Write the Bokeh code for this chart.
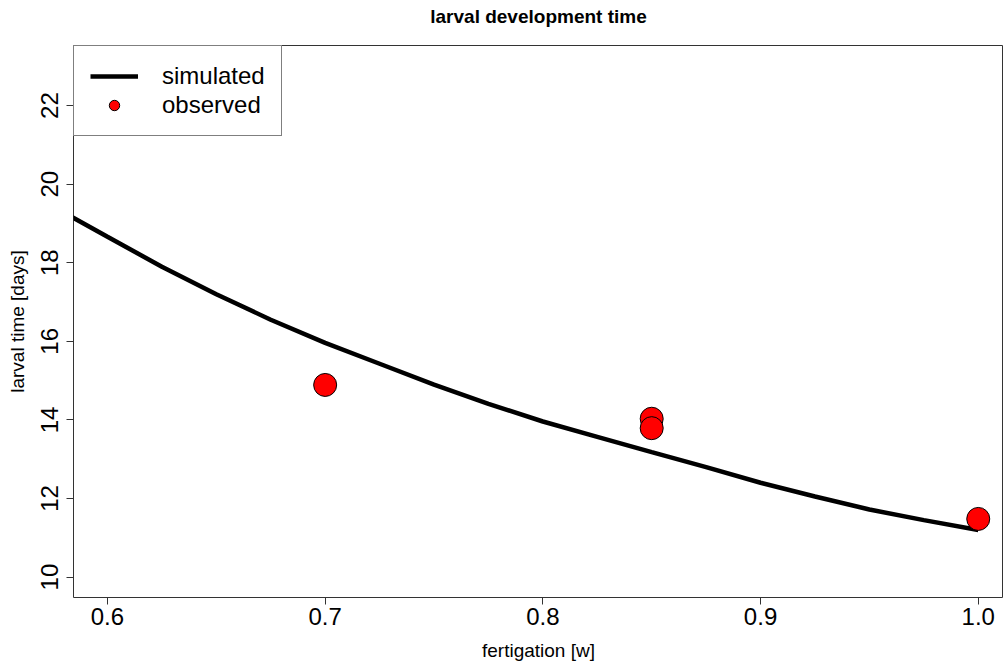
from bokeh.plotting import figure
from bokeh.models import Legend, LegendItem, FixedTicker, CustomJSTickFormatter, Range1d, Title
from bokeh.embed import file_html
from bokeh.resources import INLINE

# simulated curve
sim_x = [0.58, 0.60, 0.625, 0.65, 0.675, 0.70, 0.725, 0.75, 0.775, 0.80,
         0.825, 0.85, 0.875, 0.90, 0.925, 0.95, 0.975, 1.00]
sim_y = [19.28, 18.66, 17.90, 17.20, 16.55, 15.96, 15.43, 14.90, 14.41, 13.96,
         13.57, 13.18, 12.80, 12.40, 12.05, 11.72, 11.45, 11.20]

# observed points
obs_x = [0.70, 0.85, 0.85, 1.00]
obs_y = [14.89, 14.03, 13.79, 11.48]

x_ticks = [0.6, 0.7, 0.8, 0.9, 1.0]
y_ticks = [10, 12, 14, 16, 18, 20, 22]

FONT = "Liberation Sans"

p = figure(width=1003, height=664, output_backend="svg", toolbar_location=None,
           x_range=Range1d(0.5844, 1.0116), y_range=Range1d(9.48, 23.53),
           min_border_left=73, min_border_right=0, min_border_top=45, min_border_bottom=67)

spacer = Title(text=" ", text_font=FONT, text_font_size="16px", standoff=0)
p.add_layout(spacer, "above")
main_title = Title(text="larval development time", text_font=FONT, text_font_size="19px",
                   text_font_style="bold", text_color="black", align="center", standoff=0)
p.add_layout(main_title, "above")

p.background_fill_color = "white"
p.border_fill_color = "white"
p.outline_line_color = "#333333"
p.outline_line_width = 1
p.xgrid.visible = False
p.ygrid.visible = False

for ax in (p.xaxis[0], p.yaxis[0]):
    ax.axis_line_color = None
    ax.major_tick_line_color = "#333333"
    ax.major_tick_out = 7
    ax.major_tick_in = 0
    ax.minor_tick_line_color = None
    ax.major_label_text_font = FONT
    ax.major_label_text_font_size = "24px"
    ax.major_label_text_color = "black"
    ax.axis_label_text_font = FONT
    ax.axis_label_text_font_size = "19px"
    ax.axis_label_text_font_style = "normal"
    ax.axis_label_text_color = "black"

p.xaxis.ticker = FixedTicker(ticks=x_ticks)
p.xaxis.formatter = CustomJSTickFormatter(code="return tick.toFixed(1);")
p.xaxis.major_label_standoff = 3
p.xaxis.axis_label = "fertigation [w]"
p.xaxis.axis_label_standoff = 12

p.yaxis.ticker = FixedTicker(ticks=y_ticks)
p.yaxis.major_label_orientation = "vertical"
p.yaxis.major_label_standoff = 8
p.yaxis.axis_label = "larval time [days]"
p.yaxis.axis_label_standoff = 11

line_r = p.line(sim_x, sim_y, line_color="black", line_width=4.5)
pts_r = p.scatter(obs_x, obs_y, size=23, fill_color="red", line_color="black", line_width=1)

legend = Legend(items=[LegendItem(label="simulated", renderers=[line_r]),
                       LegendItem(label="observed", renderers=[pts_r])],
                location="top_left", margin=0, padding=16, spacing=1,
                glyph_width=48, glyph_height=26, label_height=26, label_standoff=24,
                label_text_font=FONT, label_text_font_size="24px", label_text_color="black",
                border_line_color="black", border_line_width=1,
                background_fill_color="white", background_fill_alpha=1)
p.add_layout(legend, "center")

open("out.html", "w").write(file_html(p, INLINE))
